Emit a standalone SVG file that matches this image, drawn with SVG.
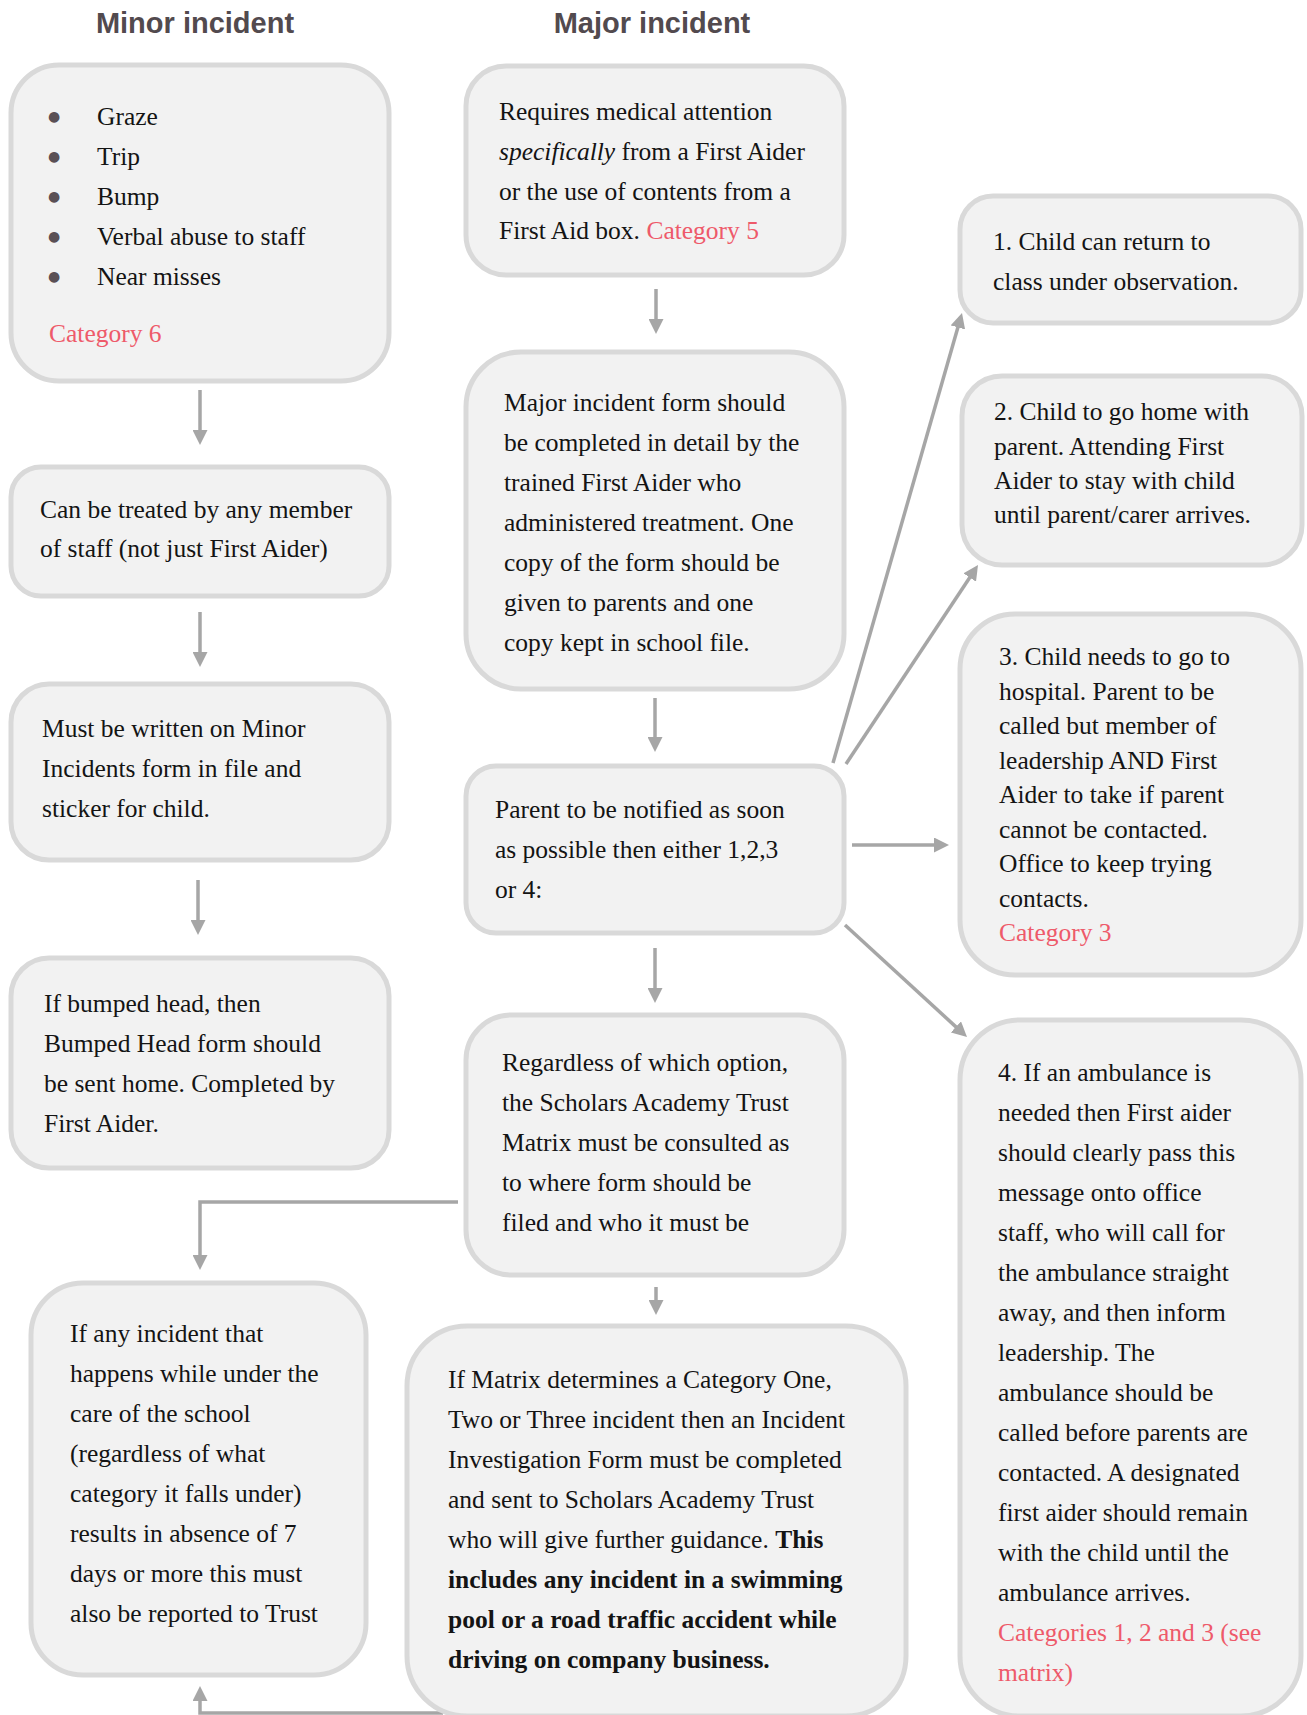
<svg xmlns="http://www.w3.org/2000/svg" width="1307" height="1715" viewBox="0 0 1307 1715">
<style>
.box{fill:#f2f2f2;stroke:#d9d9d9;stroke-width:5}
.t{font-family:"Liberation Serif","Times New Roman",serif;font-size:25.5px;fill:#141414}
.cat{fill:#ee5a6a}
.b{font-weight:bold}
.i{font-style:italic}
.title{font-family:"Liberation Sans",Arial,sans-serif;font-weight:bold;font-size:29px;fill:#524a4e}
.bul{font-family:"DejaVu Sans",sans-serif;font-size:14px;fill:#5a5055}
.c{stroke:#a6a6a6;stroke-width:3.5;fill:none}
</style>
<defs>
<marker id="ah" markerWidth="15" markerHeight="15" refX="7" refY="7.5" orient="auto" markerUnits="userSpaceOnUse">
<path d="M0,0 L15,7.5 L0,15 z" fill="#a6a6a6"/>
</marker>
</defs>

<text class="title" x="195" y="33" text-anchor="middle">Minor incident</text>
<text class="title" x="652" y="33" text-anchor="middle">Major incident</text>

<g id="connectors">
<line class="c" x1="200" y1="390" x2="200" y2="437" marker-end="url(#ah)"/>
<line class="c" x1="200" y1="612" x2="200" y2="659" marker-end="url(#ah)"/>
<line class="c" x1="198" y1="880" x2="198" y2="927" marker-end="url(#ah)"/>
<line class="c" x1="656" y1="289" x2="656" y2="326" marker-end="url(#ah)"/>
<line class="c" x1="655" y1="698" x2="655" y2="744" marker-end="url(#ah)"/>
<line class="c" x1="655" y1="948" x2="655" y2="995" marker-end="url(#ah)"/>
<line class="c" x1="656" y1="1287" x2="656" y2="1307" marker-end="url(#ah)"/>
<polyline class="c" points="458,1202 200,1202 200,1262" marker-end="url(#ah)"/>
<polyline class="c" points="443,1713 200,1713 200,1694" marker-end="url(#ah)"/>
<line class="c" x1="833" y1="763" x2="959.8" y2="320.7" marker-end="url(#ah)"/>
<line class="c" x1="846" y1="764" x2="973.6" y2="571.7" marker-end="url(#ah)"/>
<line class="c" x1="852" y1="845" x2="941" y2="845" marker-end="url(#ah)"/>
<line class="c" x1="845" y1="925" x2="961.1" y2="1031.6" marker-end="url(#ah)"/>
</g>

<g id="minor-types">
<rect class="box" x="11" y="65" width="378" height="316" rx="48"/>
<text class="bul" x="48" y="121">●</text>
<text class="bul" x="48" y="161">●</text>
<text class="bul" x="48" y="201">●</text>
<text class="bul" x="48" y="241">●</text>
<text class="bul" x="48" y="281">●</text>
<text class="t" x="97" y="125">Graze</text>
<text class="t" x="97" y="165">Trip</text>
<text class="t" x="97" y="205">Bump</text>
<text class="t" x="97" y="245">Verbal abuse to staff</text>
<text class="t" x="97" y="285">Near misses</text>
<text class="t cat" x="49" y="342">Category 6</text>
</g>

<g id="minor-treat">
<rect class="box" x="11" y="467" width="378" height="129" rx="30"/>
<text class="t" x="40" y="518">Can be treated by any member</text>
<text class="t" x="40" y="557">of staff (not just First Aider)</text>
</g>

<g id="minor-form">
<rect class="box" x="11" y="684" width="378" height="176" rx="38"/>
<text class="t" x="42" y="737">Must be written on Minor</text>
<text class="t" x="42" y="777">Incidents form in file and</text>
<text class="t" x="42" y="817">sticker for child.</text>
</g>

<g id="minor-head">
<rect class="box" x="11" y="958" width="378" height="210" rx="38"/>
<text class="t" x="44" y="1012">If bumped head, then</text>
<text class="t" x="44" y="1052">Bumped Head form should</text>
<text class="t" x="44" y="1092">be sent home. Completed by</text>
<text class="t" x="44" y="1132">First Aider.</text>
</g>

<g id="absence">
<rect class="box" x="31" y="1283" width="335" height="392" rx="52"/>
<text class="t" x="70" y="1342">If any incident that</text>
<text class="t" x="70" y="1382">happens while under the</text>
<text class="t" x="70" y="1422">care of the school</text>
<text class="t" x="70" y="1462">(regardless of what</text>
<text class="t" x="70" y="1502">category it falls under)</text>
<text class="t" x="70" y="1542">results in absence of 7</text>
<text class="t" x="70" y="1582">days or more this must</text>
<text class="t" x="70" y="1622">also be reported to Trust</text>
</g>

<g id="major-attention">
<rect class="box" x="466" y="66" width="378" height="209" rx="40"/>
<text class="t" x="499" y="120">Requires medical attention</text>
<text class="t" x="499" y="160"><tspan class="i">specifically</tspan> from a First Aider</text>
<text class="t" x="499" y="200">or the use of contents from a</text>
<text class="t" x="499" y="239">First Aid box. <tspan class="cat">Category 5</tspan></text>
</g>

<g id="major-form">
<rect class="box" x="466" y="352" width="378" height="337" rx="55"/>
<text class="t" x="504" y="411">Major incident form should</text>
<text class="t" x="504" y="451">be completed in detail by the</text>
<text class="t" x="504" y="491">trained First Aider who</text>
<text class="t" x="504" y="531">administered treatment. One</text>
<text class="t" x="504" y="571">copy of the form should be</text>
<text class="t" x="504" y="611">given to parents and one</text>
<text class="t" x="504" y="651">copy kept in school file.</text>
</g>

<g id="parent-notify">
<rect class="box" x="466" y="766" width="378" height="167" rx="30"/>
<text class="t" x="495" y="818">Parent to be notified as soon</text>
<text class="t" x="495" y="858">as possible then either 1,2,3</text>
<text class="t" x="495" y="898">or 4:</text>
</g>

<g id="matrix-consult">
<rect class="box" x="466" y="1015" width="378" height="260" rx="45"/>
<text class="t" x="502" y="1071">Regardless of which option,</text>
<text class="t" x="502" y="1111">the Scholars Academy Trust</text>
<text class="t" x="502" y="1151">Matrix must be consulted as</text>
<text class="t" x="502" y="1191">to where form should be</text>
<text class="t" x="502" y="1231">filed and who it must be</text>
</g>

<g id="investigation">
<rect class="box" x="407" y="1326" width="499" height="390" rx="60"/>
<text class="t" x="448" y="1388">If Matrix determines a Category One,</text>
<text class="t" x="448" y="1428">Two or Three incident then an Incident</text>
<text class="t" x="448" y="1468">Investigation Form must be completed</text>
<text class="t" x="448" y="1508">and sent to Scholars Academy Trust</text>
<text class="t" x="448" y="1548">who will give further guidance. <tspan class="b">This</tspan></text>
<text class="t b" x="448" y="1588">includes any incident in a swimming</text>
<text class="t b" x="448" y="1628">pool or a road traffic accident while</text>
<text class="t b" x="448" y="1668">driving on company business.</text>
</g>

<g id="option1">
<rect class="box" x="960" y="196" width="341" height="127" rx="33"/>
<text class="t" x="993" y="250">1. Child can return to</text>
<text class="t" x="993" y="290">class under observation.</text>
</g>

<g id="option2">
<rect class="box" x="962" y="376" width="340" height="189" rx="40"/>
<text class="t" x="994" y="420">2. Child to go home with</text>
<text class="t" x="994" y="455">parent. Attending First</text>
<text class="t" x="994" y="489">Aider to stay with child</text>
<text class="t" x="994" y="523">until parent/carer arrives.</text>
</g>

<g id="option3">
<rect class="box" x="960" y="614" width="341" height="361" rx="55"/>
<text class="t" x="999" y="665">3. Child needs to go to</text>
<text class="t" x="999" y="699.5">hospital. Parent to be</text>
<text class="t" x="999" y="734">called but member of</text>
<text class="t" x="999" y="768.5">leadership AND First</text>
<text class="t" x="999" y="803">Aider to take if parent</text>
<text class="t" x="999" y="837.5">cannot be contacted.</text>
<text class="t" x="999" y="872">Office to keep trying</text>
<text class="t" x="999" y="906.5">contacts.</text>
<text class="t cat" x="999" y="941">Category 3</text>
</g>

<g id="option4">
<rect class="box" x="960" y="1020" width="341" height="696" rx="60"/>
<text class="t" x="998" y="1081">4. If an ambulance is</text>
<text class="t" x="998" y="1121">needed then First aider</text>
<text class="t" x="998" y="1161">should clearly pass this</text>
<text class="t" x="998" y="1201">message onto office</text>
<text class="t" x="998" y="1241">staff, who will call for</text>
<text class="t" x="998" y="1281">the ambulance straight</text>
<text class="t" x="998" y="1321">away, and then inform</text>
<text class="t" x="998" y="1361">leadership. The</text>
<text class="t" x="998" y="1401">ambulance should be</text>
<text class="t" x="998" y="1441">called before parents are</text>
<text class="t" x="998" y="1481">contacted. A designated</text>
<text class="t" x="998" y="1521">first aider should remain</text>
<text class="t" x="998" y="1561">with the child until the</text>
<text class="t" x="998" y="1601">ambulance arrives.</text>
<text class="t cat" x="998" y="1641">Categories 1, 2 and 3 (see</text>
<text class="t cat" x="998" y="1681">matrix)</text>
</g>
</svg>
